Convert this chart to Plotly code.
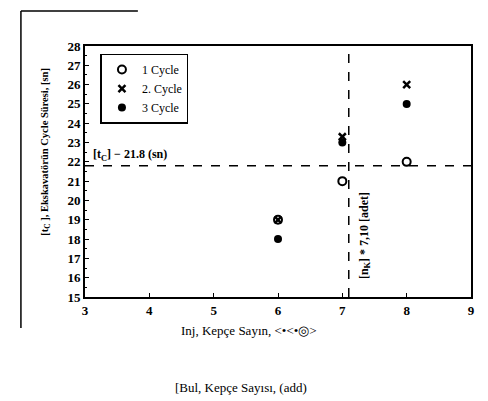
import plotly.graph_objects as go

x_vals = [6, 7, 8]
cycle1 = [19, 21, 22]
cycle2 = [19, 23.3, 26]
cycle3 = [18, 23, 25]
series_names = ["1 Cycle", "2. Cycle", "3 Cycle"]
tc_value = 21.8
nk_value = 7.10
x_ticks = [3, 4, 5, 6, 7, 8, 9]
y_ticks = list(range(15, 29))

serif = "Liberation Serif"
fig = go.Figure()
fig.add_trace(go.Scatter(x=x_vals, y=cycle1, mode="markers", name=series_names[0],
                         marker=dict(symbol="circle-open", size=8, color="black", line=dict(width=2))))
fig.add_trace(go.Scatter(x=x_vals, y=cycle2, mode="markers", name=series_names[1],
                         marker=dict(symbol="x-thin", size=7, color="black", line=dict(width=2.5, color="black"))))
fig.add_trace(go.Scatter(x=x_vals, y=cycle3, mode="markers", name=series_names[2],
                         marker=dict(symbol="circle", size=8, color="black")))

fig.add_shape(type="line", x0=3, x1=9, y0=tc_value, y1=tc_value, xref="x", yref="y",
              line=dict(color="black", width=1.5, dash="dash"))
fig.add_shape(type="line", x0=nk_value, x1=nk_value, y0=15, y1=28, xref="x", yref="y",
              line=dict(color="black", width=1.5, dash="dash"))

# decorative scan frame
fig.add_shape(type="line", xref="paper", yref="paper", x0=-0.166, x1=-0.166, y0=-0.124, y1=1.139,
              line=dict(color="black", width=1.5))
fig.add_shape(type="line", xref="paper", yref="paper", x0=-0.166, x1=0.137, y0=1.139, y1=1.139,
              line=dict(color="black", width=1.5))

fig.add_annotation(x=3.1, y=tc_value, xref="x", yref="y", xanchor="left", yanchor="bottom",
                   text="<b>[t<sub>C</sub>] − 21.8 (sn)</b>", showarrow=False,
                   font=dict(family=serif, size=12, color="black"), yshift=1)
fig.add_annotation(x=7.35, y=18.2, xref="x", yref="y", textangle=-90,
                   text="<b>[n<sub>K</sub>] * 7,10 [adet]</b>", showarrow=False,
                   font=dict(family=serif, size=12, color="black"))
fig.add_annotation(x=-0.125, y=0.58, xref="paper", yref="paper", textangle=-90,
                   text="<b>[t<sub>C</sub> ], Ekskavatörün Cycle Süresi, [sn]</b>", showarrow=False,
                   font=dict(family=serif, size=10.5, color="black"))
fig.add_annotation(x=0.425, y=-0.172, xref="paper", yref="paper",
                   text="Inj, Kepçe Sayın, <•<•◎>", showarrow=False,
                   font=dict(family=serif, size=13, color="black"))
fig.add_annotation(x=0.405, y=-0.40, xref="paper", yref="paper",
                   text="[Bul, Kepçe Sayısı, (add)", showarrow=False,
                   font=dict(family=serif, size=13, color="black"))

axis_common = dict(showgrid=False, zeroline=False, showline=True, linecolor="black", linewidth=2,
                   mirror=True, ticks="inside", ticklen=4, tickcolor="black",
                   tickfont=dict(family=serif, size=13, color="black"))
fig.update_xaxes(range=[3, 9], tickvals=x_ticks, ticktext=[f"<b>{v}</b>" for v in x_ticks], **axis_common)
fig.update_yaxes(range=[15, 28], tickvals=y_ticks, ticktext=[f"<b>{v}</b>" for v in y_ticks],
                 minor=dict(ticks="inside", ticklen=2, dtick=0.5, tickcolor="black"), **axis_common)

fig.update_layout(width=488, height=401, margin=dict(l=77, r=25, t=38, b=112),
                  plot_bgcolor="white", paper_bgcolor="white",
                  legend=dict(x=0.04, y=0.97, xanchor="left", yanchor="top",
                              bordercolor="black", borderwidth=1.5, bgcolor="white",
                              font=dict(family=serif, size=12, color="black"),
                              tracegroupgap=0, itemwidth=30))
fig.write_html("out.html")
